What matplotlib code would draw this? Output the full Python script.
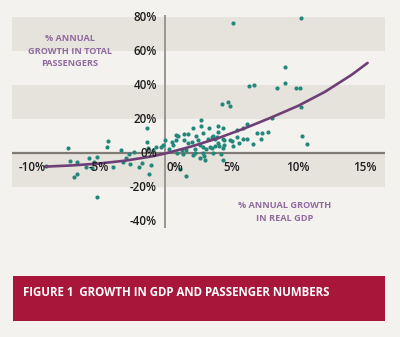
import matplotlib
matplotlib.use("Agg")
import matplotlib.pyplot as plt
from matplotlib.patches import Rectangle

# ---- data (percent) ----
gdp_growth = [
    -8.9, -7.3, -7.1, -6.6, -6.8, -6.6, -5.9, -5.7, -5.5, -5.3, -5.1, -5.1,
    -4.3, -4.35, -3.9, -3.3, -3.15, -2.9, -2.7, -2.6, -2.3, -1.95, -1.7, -1.35,
    -1.35, -1.3, -1.2, -1.05, -0.9, -0.7, -0.3, -0.15,
    0.0, 0.3, 0.5, 0.6, 0.8, 0.8, 0.9, 1.0, 1.1, 1.3, 1.4, 1.4, 1.35, 1.6, 1.6,
    1.7, 1.7, 2.0, 2.1, 2.1, 2.25, 2.25, 2.3, 2.5, 2.6, 2.6, 2.7, 2.7, 2.85,
    2.85, 2.85, 3.0, 3.1, 3.2, 3.3, 3.4, 3.5, 3.5, 3.6, 3.6, 3.75, 3.75, 3.9,
    4.0, 4.0, 4.0, 4.05, 4.2, 4.3, 4.35, 4.35, 4.35, 4.35, 4.4, 4.4, 4.7, 4.9,
    4.9, 5.0, 5.1, 5.1, 5.4, 5.4, 5.55, 5.85, 5.85, 6.15, 6.15, 6.3, 6.6, 6.7,
    6.9, 7.2, 7.3, 7.7, 8.0, 8.4, 9.0, 9.0, 9.8, 10.1, 10.2, 10.2, 10.3, 10.65,
    2.9,
]
passenger_growth = [
    -7.6, 2.9, -4.7, -5.3, -14.1, -12.4, -8.2, -2.9, -8.8, -5.3, -2.4, -25.9,
    7.1, 3.5, -8.2, 1.8, -5.3, -2.9, -0.6, -6.5, 0.6, -8.2, -5.9, 14.7,
    6.5, 2.9, -12.4, -7.1, 1.8, 3.5, 3.5, 4.7,
    7.6, 2.4, 6.5, 4.7, 10.6, 7.6, 0.0, 10.0, -9.4, 1.8, 11.2, 7.6, -0.6, 1.8, -13.5,
    11.2, 5.9, 6.5, 14.7, -1.2, 2.4, 0.0, 10.0, 7.6, 4.7, -2.9, 19.4, 15.9, 11.8,
    3.5, 0.0, -4.1, 2.4, 8.2, 14.7, 3.5, 9.4, 2.9, 10.0, 0.0, 8.2, 4.1, 9.4,
    15.9, 12.4, 5.9, 4.1, -0.6, 28.8, 14.7, 8.2, 2.9, -4.1, 7.6, 4.7, 30.0, 27.6,
    7.6, 7.1, 4.1, 76.5, 13.5, 9.4, 5.9, 14.7, 8.2, 17.1, 8.2, 39.4, 5.3, 40.0,
    11.8, 8.2, 11.8, 12.4, 20.6, 38.2, 41.2, 50.6, 38.2, 38.2, 27.1, 79.4, 10.0, 5.3,
    -1.8,
]
trend_x = [-9, -7, -5, -3, -1, 0, 2, 4, 6, 8, 10, 12, 14, 15.2]
trend_y = [-8, -7.3, -6.2, -4.5, -2.0, -0.3, 3.9, 8.8, 14.6, 21.0, 27.8, 36.0, 46.0, 53.0]

x_ticks = [-10, -5, 0, 5, 10, 15]
x_tick_labels = ["-10%", "-5%", "0%", "5%", "10%", "15%"]
y_ticks = [80, 60, 40, 20, 0, -20, -40]
y_tick_labels = ["80%", "60%", "40%", "20%", "0%", "-20%", "-40%"]
bands = [(60, 80), (20, 40), (-20, 0)]

y_title = "% ANNUAL\nGROWTH IN TOTAL\nPASSENGERS"
x_title = "% ANNUAL GROWTH\nIN REAL GDP"
banner = "FIGURE 1  GROWTH IN GDP AND PASSENGER NUMBERS"

# ---- style ----
BG = "#f4f2ee"
BAND = "#e6e2dc"
TEAL = "#23887a"
PURPLE_LINE = "#6e3f76"
PURPLE_TXT = "#8f6b9e"
RED = "#a8173a"
TXT = "#1e1e1e"
FONT = ["Open Sans", "DejaVu Sans"]

W, H = 400, 337
fig = plt.figure(figsize=(W / 100, H / 100), dpi=100, facecolor=BG)
ax = fig.add_axes([0, 0, 1, 1])
ax.set_facecolor(BG)
ax.set_xlim(-12.378, 17.63)
ax.set_ylim(-108.2, 90)
ax.axis("off")

x0f, x1f = 12 / W, 385 / W
for lo, hi in bands:
    ax.axhspan(lo, hi, xmin=x0f, xmax=x1f, color=BAND, lw=0, zorder=0)

# axis lines
ax.plot([-11.48, 16.5], [0, 0], color="#817b75", lw=1.6, zorder=1, solid_capstyle="butt")
ax.plot([0, 0], [81, -44], color="#9a958f", lw=1.4, zorder=1, solid_capstyle="butt")

ax.scatter(gdp_growth, passenger_growth, s=9, color=TEAL, lw=0, zorder=3)
ax.plot(trend_x, trend_y, color=PURPLE_LINE, lw=1.9, zorder=4, solid_capstyle="round")

for v, lab in zip(y_ticks, y_tick_labels):
    ax.text(-0.6, v, lab, ha="right", va="center", fontsize=8.4,
            family=FONT, weight="semibold", color=TXT, zorder=5)
for v, lab in zip(x_ticks, x_tick_labels):
    if v == 0:
        ax.text(0.1, -8.8, lab, ha="left", va="center", fontsize=8.4,
                family=FONT, weight="semibold", color=TXT, zorder=5)
    else:
        ax.text(v, -8.8, lab, ha="center", va="center", fontsize=8.4,
                family=FONT, weight="semibold", color=TXT, zorder=5)

fig.text(70 / W, 1 - 51 / H, y_title, ha="center", va="center", fontsize=6.6,
         family=FONT, weight="bold", color=PURPLE_TXT, linespacing=1.45)
fig.text(285 / W, 1 - 212 / H, x_title, ha="center", va="center", fontsize=6.6,
         family=FONT, weight="bold", color=PURPLE_TXT, linespacing=1.45)

fig.patches.append(Rectangle((13 / W, 1 - 321 / H), 372 / W, 45 / H,
                             transform=fig.transFigure, facecolor=RED, lw=0, zorder=1))
fig.text(23 / W, 1 - 293 / H, banner, ha="left", va="center", fontsize=8.3,
         family=FONT, weight="bold", color="white", zorder=2)

fig.savefig("out.png", dpi=100, facecolor=BG)
